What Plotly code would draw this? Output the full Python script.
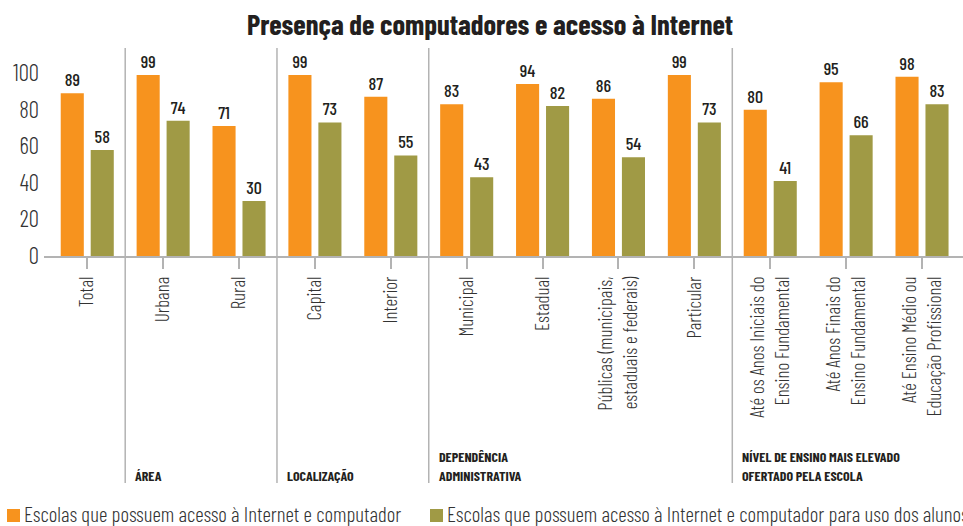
import plotly.graph_objects as go

# --- data -------------------------------------------------------------
categories = [
    "Total",
    "Urbana", "Rural",
    "Capital", "Interior",
    "Municipal", "Estadual", "Públicas (municipais,<br>estaduais e federais)", "Particular",
    "Até os Anos Iniciais do<br>Ensino Fundamental",
    "Até Anos Finais do<br>Ensino Fundamental",
    "Até Ensino Médio ou<br>Educação Profissional",
]
internet_computador = [89, 99, 71, 99, 87, 83, 94, 86, 99, 80, 95, 98]
uso_alunos = [58, 74, 30, 73, 55, 43, 82, 54, 73, 41, 66, 83]
series_names = [
    "Escolas que possuem acesso à Internet e computador",
    "Escolas que possuem acesso à Internet e computador para uso dos alunos",
]
# group label lines and the number of categories in each group
groups = [
    ([], 1),
    (["ÁREA"], 2),
    (["LOCALIZAÇÃO"], 2),
    (["DEPENDÊNCIA", "ADMINISTRATIVA"], 4),
    (["NÍVEL DE ENSINO MAIS ELEVADO", "OFERTADO PELA ESCOLA"], 3),
]
y_ticks = [0, 20, 40, 60, 80, 100]
title = "Presença de computadores e acesso à Internet"

# --- style ------------------------------------------------------------
ORANGE = "#F7931E"
OLIVE = "#A09A45"
DARK = "#231F20"
GREY = "#B3B3B3"
FONT = "Barlow Condensed, Roboto Condensed, sans-serif"

W, H = 963, 526
L, T, B = 44, 48, 256  # plot area: left edge, top, bottom (pixels)
PW, PH = W - L, B - T


def px_x(px):
    return (px - L) / PW


def px_y(py):
    return (B - py) / PH


fig = go.Figure()
for vals, color, name in [(internet_computador, ORANGE, series_names[0]),
                          (uso_alunos, OLIVE, series_names[1])]:
    fig.add_trace(go.Bar(
        x=categories, y=vals, name=name, marker=dict(color=color, line=dict(width=0)),
        text=vals, textposition="outside", cliponaxis=False, constraintext="none",
        textfont=dict(family=FONT, size=18, color=DARK, weight=500),
        showlegend=False,
    ))

# group separators and group captions
shapes, annotations = [], []
pos = 0
for i, (lines, n) in enumerate(groups):
    if i > 0:
        bx = pos - 0.5
        shapes.append(dict(type="line", xref="x", yref="paper", x0=bx, x1=bx,
                           y0=px_y(483), y1=1, line=dict(color=GREY, width=1.5)))
        for k, line in enumerate(reversed(lines)):
            annotations.append(dict(
                x=bx, xref="x", y=px_y(486), yref="paper", xanchor="left", yanchor="bottom",
                xshift=8, yshift=19 * k, text=line, showarrow=False,
                font=dict(family=FONT, size=14, color=DARK, weight=700),
            ))
    pos += n

# legend drawn as swatches with captions
for sx, name, color in [(7, series_names[0], ORANGE), (430, series_names[1], OLIVE)]:
    shapes.append(dict(type="rect", xref="paper", yref="paper",
                       x0=px_x(sx), x1=px_x(sx + 13), y0=px_y(522), y1=px_y(509),
                       fillcolor=color, line=dict(width=0)))
    annotations.append(dict(x=px_x(sx + 15), y=px_y(513), xref="paper", yref="paper",
                            xanchor="left", yanchor="middle", text=name, showarrow=False,
                            font=dict(family=FONT, size=21, color="#333333", weight=300)))

fig.update_layout(
    width=W, height=H,
    margin=dict(l=L, r=0, t=T, b=H - B, pad=0),
    paper_bgcolor="white", plot_bgcolor="white",
    title=dict(text=title, x=490 / W, xref="container", xanchor="center",
               y=1 - 25 / H, yanchor="middle",
               font=dict(family=FONT, size=28.5, color=DARK, weight=700)),
    barmode="group", bargap=0.21, bargroupgap=0.23,
    shapes=shapes, annotations=annotations,
    xaxis=dict(range=[-0.57, 11.54], tickangle=-90, showline=True, linecolor=GREY, linewidth=2,
               ticks="outside", ticklen=11, tickcolor=GREY, tickwidth=1.5,
               tickfont=dict(family=FONT, size=19, color="#333333", weight=300), showgrid=False,
               zeroline=False, fixedrange=True),
    yaxis=dict(range=[0, 113.7], tickvals=y_ticks, showgrid=False, zeroline=False,
               showline=False, ticks="", ticklabelstandoff=4,
               tickfont=dict(family=FONT, size=23, color="#333333", weight=300)),
)

fig.write_html("out.html")
